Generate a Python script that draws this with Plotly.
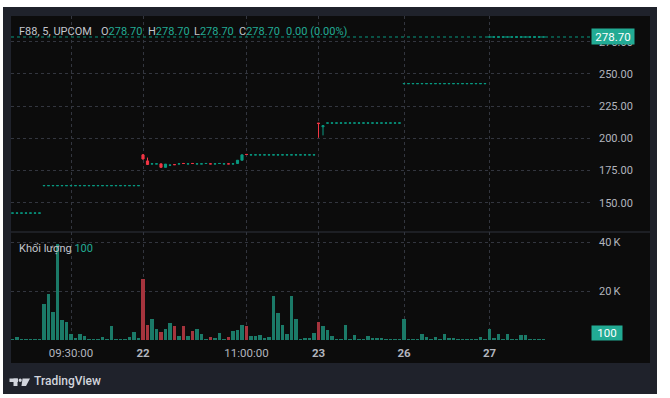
import plotly.graph_objects as go

W, H = 670, 398

# ---------------- data ----------------
bar_index = list(range(119))

opens = [142.0, 142.0, 142.0, 142.0, 142.0, 142.0, 142.0,
         163.3, 163.3, 163.3, 163.3, 163.3, 163.3, 163.3, 163.3, 163.3, 163.3, 163.3,
         163.3, 163.3, 163.3, 163.3, 163.3, 163.3, 163.3, 163.3, 163.3, 163.3, 163.3,
         187.2, 182.5, 180.2, 180.2, 180.2, 177.5, 179.2, 179.6, 180.2, 180.5, 180.2,
         180.5, 180.2, 180.2, 180.5, 180.2, 180.2, 180.5, 180.2, 180.2, 180.2, 180.5,
         183.0, 187.5,
         187.2, 187.2, 187.2, 187.2, 187.2, 187.2, 187.2, 187.2, 187.2, 187.2, 187.2,
         187.2, 187.2, 187.2, 187.2,
         211.9, 209.0,
         211.9, 211.9, 211.9, 211.9, 211.9, 211.9, 211.9, 211.9, 211.9, 211.9, 211.9,
         211.9, 211.9, 211.9, 211.9, 211.9, 211.9,
         242.5, 242.5, 242.5, 242.5, 242.5, 242.5, 242.5, 242.5, 242.5, 242.5, 242.5,
         242.5, 242.5, 242.5, 242.5, 242.5, 242.5, 242.5, 242.5,
         278.7, 278.7, 278.7, 278.7, 278.7, 278.7, 278.7, 278.7, 278.7, 278.7, 278.7,
         278.7, 278.7]

closes = [142.0, 142.0, 142.0, 142.0, 142.0, 142.0, 142.0,
          163.3, 163.3, 163.3, 163.3, 163.3, 163.3, 163.3, 163.3, 163.3, 163.3, 163.3,
          163.3, 163.3, 163.3, 163.3, 163.3, 163.3, 163.3, 163.3, 163.3, 163.3, 163.3,
          184.0, 179.7, 180.2, 180.2, 177.5, 180.0, 179.2, 179.6, 180.2, 180.5, 180.2,
          180.5, 180.2, 180.2, 180.5, 180.2, 180.2, 180.5, 180.2, 180.2, 180.2, 183.0,
          187.2, 187.5,
          187.2, 187.2, 187.2, 187.2, 187.2, 187.2, 187.2, 187.2, 187.2, 187.2, 187.2,
          187.2, 187.2, 187.2, 187.2,
          211.5, 209.8,
          211.9, 211.9, 211.9, 211.9, 211.9, 211.9, 211.9, 211.9, 211.9, 211.9, 211.9,
          211.9, 211.9, 211.9, 211.9, 211.9, 211.9,
          242.5, 242.5, 242.5, 242.5, 242.5, 242.5, 242.5, 242.5, 242.5, 242.5, 242.5,
          242.5, 242.5, 242.5, 242.5, 242.5, 242.5, 242.5, 242.5,
          278.7, 278.7, 278.7, 278.7, 278.7, 278.7, 278.7, 278.7, 278.7, 278.7, 278.7,
          278.7, 278.7]

# bars whose high / low extend beyond the body (index: value)
high_wicks = {29: 187.8, 30: 185.1, 68: 211.9, 69: 209.8}
low_wicks = {29: 183.5, 30: 179.7, 68: 200.5, 69: 202.3}

# bars drawn in red (falling)
down_bars = [29, 30, 33, 36, 38, 40, 44, 48, 52, 68]

volumes = [300, 1400, 400, 300, 300, 300, 300, 14700, 18600, 11400,
           39000, 8200, 7500, 2400, 700, 2300, 1800, 400, 300, 300,
           1200, 300, 5700, 300, 300, 300, 1400, 3300, 500, 25000,
           6100, 8600, 4500, 3400, 4500, 6900, 5700, 1800, 5800, 1600,
           3800, 4300, 2300, 400, 1200, 500, 3000, 300, 1400, 3700,
           4100, 6000, 5800, 1500, 1500, 2200, 700, 1200, 17800, 10900,
           6100, 2600, 17800, 8400, 400, 700, 600, 2900, 7200, 5800,
           4200, 1600, 400, 400, 6200, 400, 2200, 400, 400, 1600,
           500, 500, 500, 300, 300, 300, 400, 8700, 300, 300,
           300, 2400, 1200, 300, 1400, 300, 2300, 900, 900, 300,
           300, 300, 400, 300, 1400, 300, 4300, 900, 2300, 300,
           2400, 300, 300, 2200, 1900, 300, 300, 300, 100]

x_tick_index = [13, 29, 52, 68, 87, 106]
x_tick_labels = ["09:30:00", "<b>22</b>", "11:00:00", "<b>23</b>", "<b>26</b>", "<b>27</b>"]

price_ticks = [150, 175, 200, 225, 250, 275]
price_tick_labels = ["150.00", "175.00", "200.00", "225.00", "250.00", "275.00"]
volume_ticks = [20000, 40000]
volume_tick_labels = ["20\u2009K", "40\u2009K"]

symbol_text = "F88, 5, UPCOM"
last_price_label = "278.70"
last_volume_label = "100"

# ---------------- styling ----------------
UP = "#089981"
DOWN = "#f23645"
VOL_UP = "#1b7a68"
VOL_DOWN = "#a5343d"
GRID = "#33363f"
TXT = "#b2b5be"
HEAD = "#c3c6cd"
GREEN_TXT = "#22ab94"
FONT = "Roboto"


def px(x):
    return x / W


def py(y):
    return 1 - y / H


highs = [high_wicks.get(i, max(opens[i], closes[i])) for i in bar_index]
lows = [low_wicks.get(i, min(opens[i], closes[i])) for i in bar_index]

green_idx = [i for i in bar_index if i not in down_bars]
red_idx = [i for i in bar_index if i in down_bars]

fig = go.Figure()


def candle(idx, color):
    return go.Candlestick(
        x=idx,
        open=[opens[i] for i in idx],
        high=[highs[i] for i in idx],
        low=[lows[i] for i in idx],
        close=[closes[i] for i in idx],
        increasing=dict(line=dict(color=color, width=1), fillcolor=color),
        decreasing=dict(line=dict(color=color, width=1), fillcolor=color),
        whiskerwidth=0,
        xaxis="x2", yaxis="y2",
        hoverinfo="skip", showlegend=False,
    )


fig.add_trace(candle(green_idx, UP))
fig.add_trace(candle(red_idx, DOWN))

fig.add_trace(go.Bar(
    x=bar_index, y=volumes,
    marker=dict(color=[VOL_DOWN if i in down_bars else VOL_UP for i in bar_index],
                line=dict(width=0)),
    width=0.68,
    xaxis="x", yaxis="y", hoverinfo="skip", showlegend=False,
))

# pixel geometry
plot_left, plot_right = 11, 590
price_top, pane_sep, vol_bottom = 16, 232, 340
spacing = 4.5
first_bar_px = 12.5
x_lo = (plot_left - first_bar_px) / spacing
x_hi = (plot_right - first_bar_px) / spacing

grid_common = dict(showgrid=True, gridcolor=GRID, griddash="dot", gridwidth=1,
                   zeroline=False, showline=False, ticks="")

fig.update_layout(
    width=W, height=H,
    margin=dict(l=0, r=0, t=0, b=0),
    paper_bgcolor="#ffffff",
    plot_bgcolor="rgba(0,0,0,0)",
    showlegend=False,
    bargap=0,
    boxgap=0.32,
    hovermode=False,
    font=dict(family=FONT, color=TXT, size=11),
    xaxis=dict(domain=[px(plot_left), px(plot_right)], range=[x_lo, x_hi],
               anchor="y", tickvals=x_tick_index, ticktext=x_tick_labels,
               tickfont=dict(size=11.5, color=TXT, family=FONT),
               ticklabelstandoff=4,
               rangeslider=dict(visible=False), **grid_common),
    xaxis2=dict(domain=[px(plot_left), px(plot_right)], matches="x", anchor="y2",
                tickvals=x_tick_index, showticklabels=False,
                rangeslider=dict(visible=False), **grid_common),
    yaxis=dict(domain=[py(vol_bottom), py(pane_sep)], anchor="x", side="right",
               range=[0, (vol_bottom - pane_sep) / 2.45 * 1000],
               tickvals=volume_ticks, ticktext=volume_tick_labels,
               tickfont=dict(size=11, color=TXT, family=FONT),
               ticklabelstandoff=8, **grid_common),
    yaxis2=dict(domain=[py(pane_sep), py(price_top)], anchor="x2", side="right",
                range=[127.3, 295.0],
                tickvals=price_ticks, ticktext=price_tick_labels,
                tickfont=dict(size=11, color=TXT, family=FONT),
                ticklabelstandoff=8, **grid_common),
)

shapes = [
    # outer frame and black panel
    dict(type="rect", xref="paper", yref="paper", x0=px(3), x1=px(657), y0=py(394), y1=py(7),
         fillcolor="#1f222b", line=dict(width=0), layer="below"),
    dict(type="rect", xref="paper", yref="paper", x0=px(11), x1=px(650), y0=py(363), y1=py(16),
         fillcolor="#0c0c0c", line=dict(width=0), layer="below"),
    # pane separator
    dict(type="line", xref="paper", yref="paper", x0=px(11), x1=px(650), y0=py(pane_sep), y1=py(pane_sep),
         line=dict(color="#2e323c", width=1)),
    # last price line
    dict(type="line", xref="paper", yref="y2", x0=px(plot_left), x1=px(plot_right),
         y0=closes[-1], y1=closes[-1], line=dict(color=UP, width=1, dash="dot")),
    # TradingView logo
    dict(type="rect", xref="paper", yref="paper", x0=px(9.5), x1=px(18), y0=py(382), y1=py(378.5),
         fillcolor="#d1d4dc", line=dict(width=0)),
    dict(type="rect", xref="paper", yref="paper", x0=px(13.5), x1=px(17.5), y0=py(386), y1=py(378.5),
         fillcolor="#d1d4dc", line=dict(width=0)),
    dict(type="circle", xref="paper", yref="paper", x0=px(18.6), x1=px(21.8), y0=py(382), y1=py(378.5),
         fillcolor="#d1d4dc", line=dict(width=0)),
    dict(type="path", xref="paper", yref="paper",
         path=f"M {px(22.5)},{py(378.5)} L {px(30)},{py(378.5)} L {px(26)},{py(386)} L {px(21.5)},{py(386)} Z",
         fillcolor="#d1d4dc", line=dict(width=0)),
]
fig.update_layout(shapes=shapes)

g = GREEN_TXT
annotations = [
    dict(x=px(16.5), y=py(31.5), text=symbol_text, font=dict(color=HEAD)),
    dict(x=px(98.5), y=py(31.5), text=f"O<span style='color:{g}'>{opens[-1]:.2f}</span>",
         font=dict(color=HEAD)),
    dict(x=px(145.5), y=py(31.5), text=f"H<span style='color:{g}'>{highs[-1]:.2f}</span>",
         font=dict(color=HEAD)),
    dict(x=px(192.3), y=py(31.5), text=f"L<span style='color:{g}'>{lows[-1]:.2f}</span>",
         font=dict(color=HEAD)),
    dict(x=px(237.3), y=py(31.5), text=f"C<span style='color:{g}'>{closes[-1]:.2f}</span>",
         font=dict(color=HEAD)),
    dict(x=px(284), y=py(31.5),
         text=f"{closes[-1] - closes[-2]:.2f} ({(closes[-1] - closes[-2]) / closes[-2] * 100:.2f}%)",
         font=dict(color=g)),
    dict(x=px(17), y=py(248), text=f"Khối lượng <span style='color:{g}'>{volumes[-1]}</span>",
         font=dict(color=HEAD)),
    # price label box
    dict(x=px(591), y=closes[-1], yref="y2", text=last_price_label, bgcolor="#22ab94",
         font=dict(color="#ffffff", size=11.5), width=40, height=13, borderpad=1, align="center"),
    # volume label box
    dict(x=px(591), y=py(333), text=last_volume_label, bgcolor="#22ab94",
         font=dict(color="#ffffff", size=11.5), width=28, height=12, borderpad=1, align="center"),
    # TradingView wordmark
    dict(x=px(31.5), y=py(381), text="TradingView",
         font=dict(color="#d1d4dc", size=12, weight=500)),
]
for a in annotations:
    a.setdefault("xref", "paper")
    a.setdefault("yref", "paper")
    a.setdefault("xanchor", "left")
    a.setdefault("yanchor", "middle")
    a.setdefault("showarrow", False)
    a["font"].setdefault("family", FONT)
    a["font"].setdefault("size", 11)
fig.update_layout(annotations=annotations)

fig.write_html("out.html", config={"displayModeBar": False},
               post_script="document.body.style.margin='0';document.body.style.overflow='hidden';")
